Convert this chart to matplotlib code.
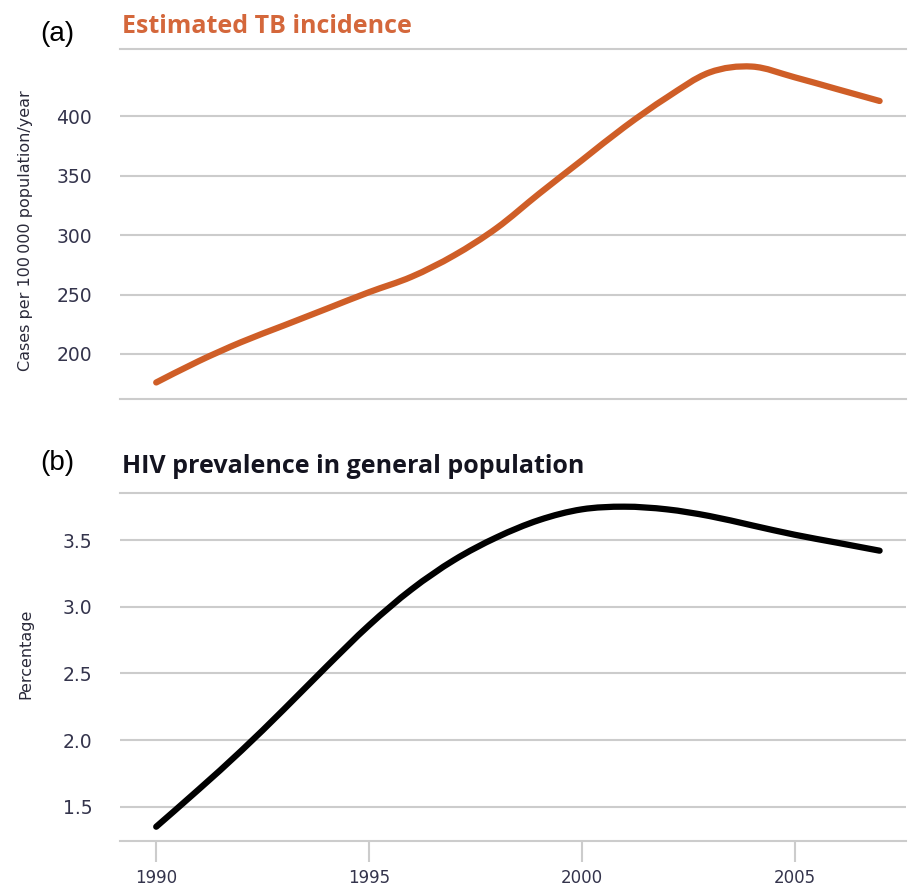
import matplotlib
matplotlib.use("Agg")
import matplotlib.pyplot as plt
from matplotlib.path import Path
from matplotlib.patches import PathPatch

# values
years = [1990, 1991, 1992, 1993, 1994, 1995, 1996, 1997, 1998, 1999,
         2000, 2001, 2002, 2003, 2004, 2005, 2006, 2007]
tb_incidence = [176, 194, 210, 224, 238, 252, 265, 283, 306, 335,
                363, 391, 416, 437, 442, 433, 423, 413]
hiv_prevalence = [1.35, 1.63, 1.92, 2.23, 2.55, 2.86, 3.13, 3.35, 3.52, 3.65,
                  3.73, 3.75, 3.73, 3.68, 3.61, 3.54, 3.48, 3.42]

tb_ticks = [200, 250, 300, 350, 400]
hiv_ticks = [1.5, 2.0, 2.5, 3.0, 3.5]
year_ticks = [1990, 1995, 2000, 2005]

orange = '#cf5e27'
grid_c = '#cccccc'
label_c = '#34344c'


def smooth_line(ax, xs, ys, color):
    # catmull-rom through the points, drawn as bezier segments
    pts = list(zip(xs, ys))
    pts = [pts[0]] + pts + [pts[-1]]
    verts = [pts[1]]
    codes = [Path.MOVETO]
    for i in range(1, len(pts) - 2):
        p0, p1, p2, p3 = pts[i - 1], pts[i], pts[i + 1], pts[i + 2]
        c1 = (p1[0] + (p2[0] - p0[0]) / 6, p1[1] + (p2[1] - p0[1]) / 6)
        c2 = (p2[0] - (p3[0] - p1[0]) / 6, p2[1] - (p3[1] - p1[1]) / 6)
        verts += [c1, c2, p2]
        codes += [Path.CURVE4] * 3
    patch = PathPatch(Path(verts, codes), facecolor='none', edgecolor=color,
                      linewidth=4.5, capstyle='round', joinstyle='round')
    ax.add_patch(patch)


def style(ax):
    ax.set_xlim(1989.15, 2007.62)
    for s in ['left', 'right']:
        ax.spines[s].set_visible(False)
    for s in ['top', 'bottom']:
        ax.spines[s].set_color(grid_c)
        ax.spines[s].set_linewidth(1.5)
    ax.yaxis.grid(True, color=grid_c, linewidth=1.5)
    ax.set_axisbelow(True)
    ax.tick_params(axis='y', length=0, pad=20, labelsize=13.5, labelcolor=label_c)


fig = plt.figure(figsize=(9.08, 8.89), dpi=100)
ax1 = fig.add_axes([0.1322, 0.5508, 0.8656, 0.3937])
ax2 = fig.add_axes([0.1322, 0.0543, 0.8656, 0.3915])

smooth_line(ax1, years, tb_incidence, orange)
style(ax1)
ax1.set_ylim(161.8, 456.5)
ax1.set_yticks(tb_ticks)
ax1.set_xticks([])

smooth_line(ax2, years, hiv_prevalence, 'black')
style(ax2)
ax2.set_ylim(1.245, 3.855)
ax2.set_yticks(hiv_ticks)
ax2.set_yticklabels(['%.1f' % v for v in hiv_ticks])
ax2.set_xticks(year_ticks)
ax2.tick_params(axis='x', length=15, width=1.5, color=grid_c, pad=5,
                labelcolor=label_c, labelsize=12)

fig.text(0.044, 0.954, '(a)', fontsize=20, family='Liberation Sans', color='black')
fig.text(0.044, 0.471, '(b)', fontsize=20, family='Liberation Sans', color='black')
fig.text(0.134, 0.963, 'Estimated TB incidence', fontsize=18, fontweight='bold',
         family='Open Sans', color='#d4673b')
fig.text(0.134, 0.468, 'HIV prevalence in general population', fontsize=18,
         fontweight='bold', family='Open Sans', color='#141420')

fig.text(0.0286, 0.741, 'Cases per 100\u2009000 population/year', rotation=90,
         ha='center', va='center', fontsize=11.5, color='#2a2a3a')
fig.text(0.0286, 0.2643, 'Percentage', rotation=90, ha='center', va='center',
         fontsize=11.5, color='#2a2a3a')

fig.savefig('out.png', dpi=100)
